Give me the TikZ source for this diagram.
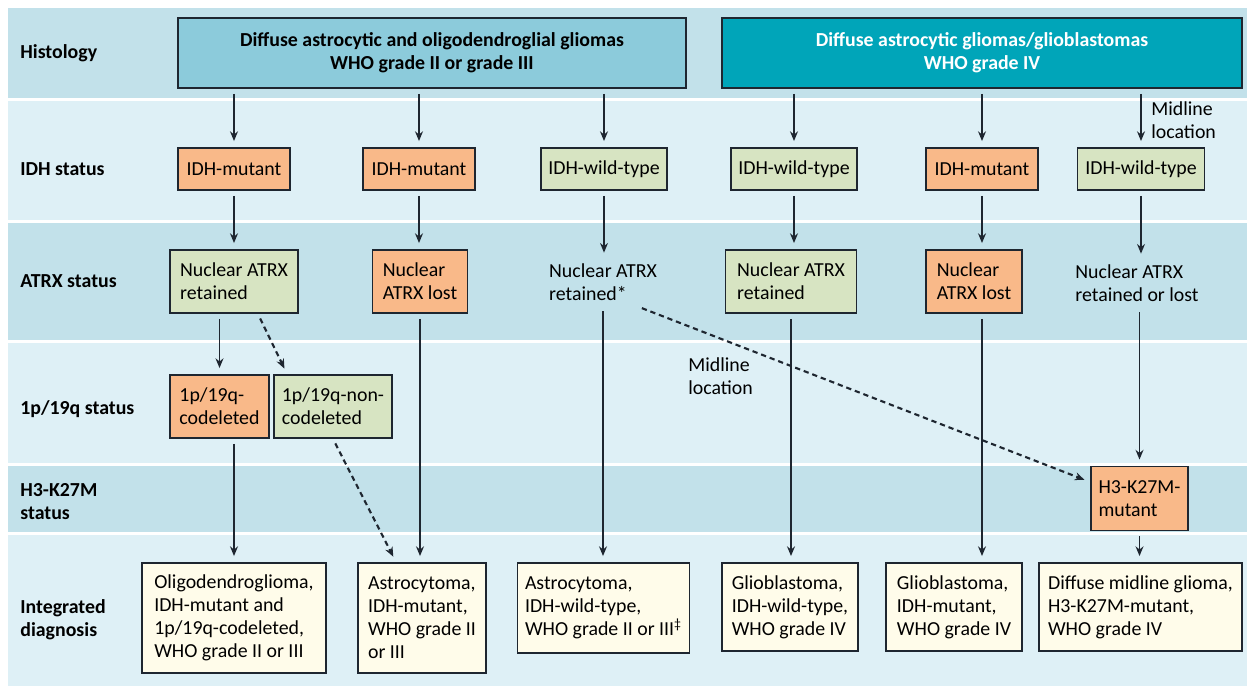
\documentclass[tikz,border=0pt]{standalone}
\usepackage{fontspec}
\setmainfont{Carlito}
\usepackage{xcolor}
\usepackage{tikz}
\usetikzlibrary{arrows.meta,positioning}

\definecolor{bandA}{RGB}{194,225,234}
\definecolor{bandB}{RGB}{222,240,246}
\definecolor{histA}{RGB}{140,203,219}
\definecolor{histB}{RGB}{0,165,185}
\definecolor{mutc}{RGB}{249,185,137}
\definecolor{wildc}{RGB}{215,228,194}
\definecolor{diagc}{RGB}{255,252,234}
\definecolor{linec}{RGB}{30,38,48}

\newcommand{\figfont}{\fontsize{11.3}{13.1}\selectfont}

\begin{document}
\begin{tikzpicture}[
    x=0.02cm, y=-0.02cm,
    font=\figfont,
    histbox/.style={draw=linec, line width=1.1pt, minimum width=10.16cm, minimum height=1.4cm, align=center, font=\figfont\bfseries},
    statbox/.style={draw=linec, line width=1.1pt, inner xsep=0.15cm, minimum height=0.84cm, align=center},
    atrxbox/.style={statbox, minimum height=1.26cm, align=left},
    diagbox/.style={statbox, fill=diagc, align=left},
    plain/.style={align=left, inner sep=0.1cm},
    rowlabel/.style={anchor=west, align=left, inner sep=0pt, font=\figfont\bfseries},
    arr/.style={-{Stealth[length=5.5pt,width=4.5pt]}, draw=linec, line width=0.9pt, shorten <=0.1cm, shorten >=0.12cm},
    dasharr/.style={arr, dash pattern=on 3pt off 2.2pt, line width=1.2pt}
]

% Background and row bands
\fill[white] (0,0) rectangle (1254,689);
\foreach \top/\bot/\col in {8/98/bandA, 101/220/bandB, 223/340/bandA, 343/463/bandB, 466/532/bandA, 535/686/bandB}
    \fill[\col] (8,\top) rectangle (1247,\bot);

% Row labels
\node[rowlabel] (lhist) at (20,53) {Histology};
\node[rowlabel] (lidh) at (20,169) {IDH status};
\node[rowlabel] (latrx) at (20,281) {ATRX status};
\node[rowlabel] (lcod) at (20,409) {1p/19q status};
\node[rowlabel] (lh3) at (20,502) {H3-K27M\\status};
\node[rowlabel] (ldiag) at (20,620) {Integrated\\diagnosis};

% Histology
\node[histbox, fill=histA] (hist1) at (432,53) {Diffuse astrocytic and oligodendroglial gliomas\\WHO grade II or grade III};
\node[histbox, fill=histB, minimum width=10.4cm, text=white] (hist2) at (982,53) {Diffuse astrocytic gliomas/glioblastomas\\WHO grade IV};

% IDH status
\node[statbox, fill=mutc, minimum width=2.24cm] (idh1) at (234,169) {IDH-mutant};
\node[statbox, fill=mutc, minimum width=2.24cm] (idh2) at (419,169) {IDH-mutant};
\node[statbox, fill=wildc, minimum width=2.5cm] (idh3) at (604,169) {IDH-wild-type};
\node[statbox, fill=wildc, minimum width=2.5cm] (idh4) at (794,169) {IDH-wild-type};
\node[statbox, fill=mutc, minimum width=2.24cm] (idh5) at (982,169) {IDH-mutant};
\node[statbox, fill=wildc, minimum width=2.54cm] (idh6) at (1141,169) {IDH-wild-type};
\node[plain, anchor=west, inner sep=0pt] (mid1) at (1151,120.5) {Midline\\location};

% ATRX status
\node[atrxbox, fill=wildc, minimum width=2.56cm] (atrx1) at (234,281.5) {Nuclear ATRX\\retained};
\node[atrxbox, fill=mutc, minimum width=1.9cm] (atrx2) at (420,281.5) {Nuclear\\ATRX lost};
\node[plain] (atrx3) at (603,282.5) {Nuclear ATRX\\retained*};
\node[atrxbox, fill=wildc, minimum width=2.62cm] (atrx4) at (791,281.5) {Nuclear ATRX\\retained};
\node[atrxbox, fill=mutc, minimum width=1.92cm] (atrx5) at (974,281.5) {Nuclear\\ATRX lost};
\node[plain] (atrx6) at (1137,283.5) {Nuclear ATRX\\retained or lost};

% 1p/19q status
\node[atrxbox, fill=mutc, minimum width=1.98cm] (cod) at (219.5,406.5) {1p/19q-\\codeleted};
\node[atrxbox, fill=wildc, minimum width=2.36cm] (non) at (333,406.5) {1p/19q-non-\\codeleted};
\node[plain, anchor=west, inner sep=0pt] (mid2) at (688,376) {Midline\\location};

% H3-K27M status
\node[atrxbox, fill=mutc, minimum width=1.94cm, minimum height=1.28cm] (h3) at (1139.5,498.5) {H3-K27M-\\mutant};

% Integrated diagnosis
\node[diagbox, minimum width=3.68cm, minimum height=2.2cm] (int1) at (234,618) {Oligodendroglioma,\\IDH-mutant and\\1p/19q-codeleted,\\WHO grade II or III};
\node[diagbox, minimum width=2.56cm, minimum height=2.2cm] (int2) at (422,618) {Astrocytoma,\\IDH-mutant,\\WHO grade II\\or III};
\node[diagbox, minimum width=3.38cm, minimum height=1.8cm] (int3) at (603.5,608) {Astrocytoma,\\IDH-wild-type,\\WHO grade II or III\textsuperscript{\ddag}};
\node[diagbox, minimum width=2.72cm, minimum height=1.76cm] (int4) at (790,607) {Glioblastoma,\\IDH-wild-type,\\WHO grade IV};
\node[diagbox, minimum width=2.72cm, minimum height=1.76cm] (int5) at (954,607) {Glioblastoma,\\IDH-mutant,\\WHO grade IV};
\node[diagbox, minimum width=4.06cm, minimum height=1.76cm] (int6) at (1140.5,607) {Diffuse midline glioma,\\H3-K27M-mutant,\\WHO grade IV};

% Histology -> IDH
\foreach \n in {idh1,idh2,idh3}
    \draw[arr] (hist1.south -| \n.north) -- (\n.north);
\foreach \n in {idh4,idh5,idh6}
    \draw[arr] (hist2.south -| \n.north) -- (\n.north);

% IDH -> ATRX
\foreach \n/\m in {idh1/atrx1, idh2/atrx2, idh3/atrx3, idh4/atrx4, idh5/atrx5, idh6/atrx6}
    \draw[arr] (\n.south) -- (\n.south |- \m.north);

% ATRX -> 1p/19q, H3-K27M and diagnosis
\draw[arr] (atrx1.south -| cod.north) -- (cod.north);
\draw[dasharr] ([xshift=-0.82cm]atrx1.south east) -- ([xshift=0.28cm]non.north west);
\draw[arr] (cod.south -| int1.north) -- (int1.north);
\draw[dasharr] (non.south) -- ([xshift=0.78cm]int2.north west);
\draw[arr] (atrx2.south) -- (atrx2.south |- int2.north);
\draw[arr] (atrx3.south) -- (atrx3.south |- int3.north);
\draw[arr] (atrx4.south) -- (atrx4.south |- int4.north);
\draw[arr] (atrx5.south -| idh5.south) -- (int5.north -| idh5.south);
\draw[arr] (atrx6.south -| h3.north) -- (h3.north);
\draw[arr] (h3.south) -- (h3.south |- int6.north);
\draw[dasharr] ([xshift=-0.5cm]atrx3.south east) -- ([yshift=0.33cm]h3.west);

\end{tikzpicture}
\end{document}
